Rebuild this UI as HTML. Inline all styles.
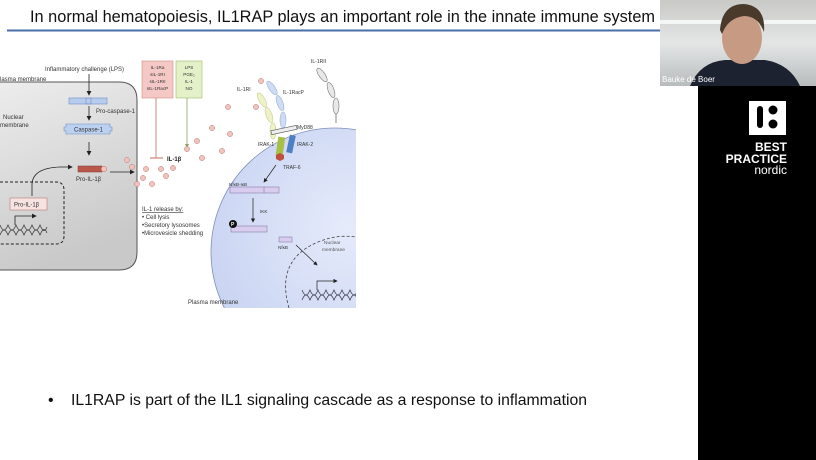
<!DOCTYPE html>
<html><head><meta charset="utf-8"><style>
html,body{margin:0;padding:0;background:#fff;}
svg{display:block;font-family:"Liberation Sans",sans-serif;}
</style></head><body>
<svg width="816" height="460" viewBox="0 0 816 460" xmlns="http://www.w3.org/2000/svg">
<defs>
<linearGradient id="gc" x1="0" y1="0" x2="0.3" y2="1"><stop offset="0" stop-color="#ededed"/><stop offset="1" stop-color="#c9c9c9"/></linearGradient>
<radialGradient id="bc" cx="0.55" cy="0.4" r="0.6"><stop offset="0" stop-color="#e6ebfb"/><stop offset="1" stop-color="#c9d4f2"/></radialGradient>
<linearGradient id="cam" x1="0" y1="0" x2="0" y2="1"><stop offset="0" stop-color="#c9c9c6"/><stop offset="0.5" stop-color="#e4e6e6"/><stop offset="1" stop-color="#b9bcbc"/></linearGradient>
<marker id="ar" markerWidth="6" markerHeight="6" refX="5" refY="3" orient="auto"><path d="M0,0 L6,3 L0,6 z" fill="#222"/></marker>
<clipPath id="dg"><rect x="0" y="52" width="356" height="256"/></clipPath>
</defs>
<text x="30" y="22" font-size="17" fill="#111" textLength="625" lengthAdjust="spacingAndGlyphs">In normal hematopoiesis, IL1RAP plays an important role in the innate immune system</text>
<rect x="7" y="29.5" width="653" height="2" fill="#4a6ea8"/>

<g clip-path="url(#dg)" font-size="6" fill="#333">
<!-- gray cell -->
<path d="M-5,82 H119 Q137,82 137,100 V252 Q137,270 119,270 H-5 Z" fill="url(#gc)" stroke="#555" stroke-width="1"/>
<text x="0" y="81" font-size="6">lasma membrane</text>
<text x="45" y="71">Inflammatory challenge (LPS)</text>
<line x1="89" y1="74" x2="89" y2="95" stroke="#222" stroke-width="0.8" marker-end="url(#ar)"/>
<rect x="69" y="98" width="38" height="6" fill="#b8cdee" stroke="#6f8fc4" stroke-width="0.6"/>
<rect x="86" y="98" width="5" height="6" fill="none" stroke="#6f8fc4" stroke-width="0.6"/>
<text x="96" y="113">Pro-caspase-1</text>
<line x1="89" y1="106" x2="89" y2="120" stroke="#222" stroke-width="0.8" marker-end="url(#ar)"/>
<path d="M66,124 H110 V127 H112 V131 H110 V134 H66 V131 H64 V127 H66 Z" fill="#bcd0f0" stroke="#6f8fc4" stroke-width="0.6"/>
<text x="74" y="131.5">Caspase-1</text>
<line x1="89" y1="142" x2="89" y2="155" stroke="#222" stroke-width="0.8" marker-end="url(#ar)"/>
<rect x="78" y="166" width="24" height="6" fill="#b9584a" stroke="#7a3a30" stroke-width="0.5"/>
<circle cx="104" cy="169" r="2.8" fill="#f2c4c0" stroke="#b97070" stroke-width="0.5"/>
<text x="76" y="181">Pro-IL-1β</text>
<line x1="110" y1="172" x2="134" y2="172" stroke="#222" stroke-width="0.8" marker-end="url(#ar)"/>
<text x="3" y="119">Nuclear</text><text x="0" y="127">membrane</text>
<path d="M-5,182 H56 Q64,182 64,190 V236 Q64,244 56,244 H-5" fill="none" stroke="#222" stroke-width="1" stroke-dasharray="3,2"/>
<path d="M32,196 V185 Q32,168 60,167 H72" fill="none" stroke="#222" stroke-width="0.8" marker-end="url(#ar)"/>
<rect x="10" y="198" width="37" height="12" fill="#f7e4e2" stroke="#b47a74" stroke-width="0.6"/>
<text x="14" y="206.5">Pro-IL-1β</text>
<path d="M15,225 V216 H36" fill="none" stroke="#222" stroke-width="0.8" marker-end="url(#ar)"/>
<path d="M0,225 Q4,235 8,225 Q12,235 16,225 Q20,235 24,225 Q28,235 32,225 Q36,235 40,225 Q44,235 47,227" fill="none" stroke="#333" stroke-width="0.7"/>
<path d="M0,235 Q4,225 8,235 Q12,225 16,235 Q20,225 24,235 Q28,225 32,235 Q36,225 40,235 Q44,225 47,233" fill="none" stroke="#333" stroke-width="0.7"/>
<!-- inhibitors -->
<rect x="142" y="61" width="31" height="37" fill="#f4c9c5" stroke="#d08a84" stroke-width="0.6"/>
<g font-size="4.6" text-anchor="middle"><text x="157.5" y="69">IL-1Ra</text><text x="157.5" y="76">sIL-1RI</text><text x="157.5" y="83">sIL-1RII</text><text x="157.5" y="90">sIL-1RacP</text></g>
<line x1="156" y1="98" x2="156" y2="158" stroke="#c56a62" stroke-width="0.8"/>
<line x1="150" y1="158" x2="163" y2="158" stroke="#c56a62" stroke-width="1"/>
<rect x="176" y="61" width="26" height="37" fill="#e3f0c8" stroke="#9dbb6b" stroke-width="0.6"/>
<g font-size="4.6" text-anchor="middle"><text x="189" y="69">LPS</text><text x="189" y="76">PGE₂</text><text x="189" y="83">IL-1</text><text x="189" y="90">NO</text></g>
<line x1="187" y1="98" x2="187" y2="145" stroke="#8aa35a" stroke-width="0.8"/>
<path d="M185,144 L187,148 L189,144 z" fill="#8aa35a"/>
<text x="167" y="161" font-weight="bold" font-size="6" fill="#222">IL-1β</text>
<text x="142" y="211" text-decoration="underline">IL-1 release by:</text>
<text x="142" y="219">• Cell lysis</text><text x="142" y="227">•Secretory lysosomes</text><text x="142" y="235">•Microvesicle shedding</text>
<!-- blue cell -->
<circle cx="335" cy="252" r="124" fill="url(#bc)" stroke="#7f8fba" stroke-width="0.8"/>
<text x="188" y="304">Plasma membrane</text>
<!-- IL-1RII -->
<g fill="#e8e8e8" stroke="#777" stroke-width="0.6">
<ellipse cx="322" cy="75" rx="3" ry="8" transform="rotate(-35 322 75)"/>
<ellipse cx="331" cy="90" rx="3" ry="8" transform="rotate(-20 331 90)"/>
<ellipse cx="336" cy="106" rx="3" ry="8"/>
</g>
<line x1="336" y1="114" x2="336" y2="123" stroke="#555" stroke-width="0.7"/>
<text x="311" y="63" font-size="5">IL-1RII</text>
<!-- receptors -->
<g fill="#eef2c8" stroke="#c8cf88" stroke-width="0.6">
<ellipse cx="262" cy="100" rx="3" ry="8" transform="rotate(-30 262 100)"/>
<ellipse cx="269" cy="115" rx="3" ry="8" transform="rotate(-20 269 115)"/>
<ellipse cx="273" cy="131" rx="3" ry="8"/>
</g>
<g fill="#cfdcf3" stroke="#98b0d8" stroke-width="0.6">
<ellipse cx="272" cy="88" rx="3" ry="8" transform="rotate(-35 272 88)"/>
<ellipse cx="280" cy="103" rx="3" ry="8" transform="rotate(-20 280 103)"/>
<ellipse cx="283" cy="120" rx="3" ry="8"/>
</g>
<text x="237" y="91" font-size="5">IL-1RI</text>
<text x="283" y="94" font-size="5">IL-1RacP</text>
<rect x="271" y="128" width="26" height="4" fill="#eee" stroke="#555" stroke-width="0.6" transform="rotate(-12 284 130)"/>
<text x="297" y="129" font-size="5">MyD88</text>
<rect x="277" y="137" width="7" height="19" fill="#a8bf48" transform="rotate(8 280 146)"/>
<rect x="288" y="135" width="6" height="18" fill="#4d7fc4" transform="rotate(12 291 144)"/>
<text x="258" y="146" font-size="5">IRAK-1</text><text x="297" y="146" font-size="5">IRAK-2</text>
<polygon points="280,153 284,155 284,159 280,161 276,159 276,155" fill="#c0503e"/>
<text x="283" y="169" font-size="5">TRAF-6</text>
<line x1="276" y1="165" x2="264" y2="182" stroke="#222" stroke-width="0.7" marker-end="url(#ar)"/>
<text x="229" y="186" font-size="4.6">NfκB-IκB</text>
<rect x="230" y="187" width="49" height="6" fill="#d8cdef" stroke="#7a6f98" stroke-width="0.5"/>
<line x1="264" y1="187" x2="264" y2="193" stroke="#7a6f98" stroke-width="0.5"/>
<line x1="253" y1="198" x2="253" y2="222" stroke="#222" stroke-width="0.7" marker-end="url(#ar)"/>
<text x="260" y="213" font-size="4.6">IKK</text>
<rect x="231" y="226" width="36" height="6" fill="#d8cdef" stroke="#7a6f98" stroke-width="0.5"/>
<circle cx="233" cy="224" r="4" fill="#111"/><text x="231" y="226" font-size="5" fill="#fff" font-weight="bold">P</text>
<rect x="279" y="237" width="13" height="5" fill="#d8cdef" stroke="#7a6f98" stroke-width="0.5"/>
<text x="278" y="249" font-size="4.6">NfκB</text>
<line x1="296" y1="245" x2="317" y2="265" stroke="#222" stroke-width="0.7" marker-end="url(#ar)"/>
<path d="M289,308 Q275,260 318,242 Q340,233 360,238" fill="none" stroke="#444" stroke-width="0.8" stroke-dasharray="3,2"/>
<text x="324" y="244" font-size="4.8" fill="#555">Nuclear</text><text x="322" y="251" font-size="4.8" fill="#555">membrane</text>
<path d="M317,290 V281 H337" fill="none" stroke="#222" stroke-width="0.7" marker-end="url(#ar)"/>
<path d="M302,290 Q306,300 310,290 Q314,300 318,290 Q322,300 326,290 Q330,300 334,290 Q338,300 342,290 Q346,300 350,290 Q354,300 358,290" fill="none" stroke="#334" stroke-width="0.7"/>
<path d="M302,300 Q306,290 310,300 Q314,290 318,300 Q322,290 326,300 Q330,290 334,300 Q338,290 342,300 Q346,290 350,300 Q354,290 358,300" fill="none" stroke="#334" stroke-width="0.7"/>
<!-- IL-1 dots -->
<g fill="#f2c2bd" stroke="#b87570" stroke-width="0.5">
<circle cx="127" cy="160" r="2.6"/><circle cx="132" cy="167" r="2.6"/><circle cx="137" cy="184" r="2.6"/>
<circle cx="146" cy="169" r="2.6"/><circle cx="143" cy="178" r="2.6"/><circle cx="152" cy="184" r="2.6"/>
<circle cx="161" cy="169" r="2.6"/><circle cx="166" cy="176" r="2.6"/><circle cx="173" cy="168" r="2.6"/>
<circle cx="187" cy="149" r="2.6"/><circle cx="197" cy="141" r="2.6"/><circle cx="202" cy="158" r="2.6"/>
<circle cx="212" cy="128" r="2.6"/><circle cx="222" cy="151" r="2.6"/><circle cx="230" cy="134" r="2.6"/>
<circle cx="228" cy="107" r="2.6"/><circle cx="256" cy="107" r="2.6"/><circle cx="261" cy="81" r="2.6"/>
</g>
</g>

<text x="48" y="405" font-size="16" fill="#111">•</text>
<text x="71" y="405" font-size="16" fill="#111" textLength="516" lengthAdjust="spacingAndGlyphs">IL1RAP is part of the IL1 signaling cascade as a response to inflammation</text>

<!-- webcam -->
<rect x="660" y="0" width="156" height="86" fill="url(#cam)"/>
<rect x="660" y="20" width="156" height="4" fill="#f4f6f6"/>
<path d="M690,86 Q700,62 725,60 L765,60 Q790,64 800,86 Z" fill="#1c2230"/>
<ellipse cx="742" cy="38" rx="20" ry="26" fill="#c79a84"/>
<path d="M720,30 Q722,4 744,4 Q766,6 764,32 Q758,16 744,16 Q728,18 722,34 Z" fill="#4a3a2c"/>
<text x="662" y="82" font-size="8" fill="#fff">Bauke de Boer</text>
<!-- black panel -->
<rect x="698" y="86" width="118" height="374" fill="#000"/>
<rect x="749" y="101" width="37" height="34" fill="#fff"/>
<rect x="757" y="106" width="6" height="22" rx="3" fill="#000"/>
<circle cx="773" cy="110" r="4.5" fill="#000"/><circle cx="773" cy="124" r="4.5" fill="#000"/>
<g fill="#fff" text-anchor="end"><text x="787" y="151" font-size="12" font-weight="bold">BEST</text>
<text x="787" y="163" font-size="12" font-weight="bold">PRACTICE</text>
<text x="787" y="174" font-size="12">nordic</text></g>
</svg>
</body></html>
